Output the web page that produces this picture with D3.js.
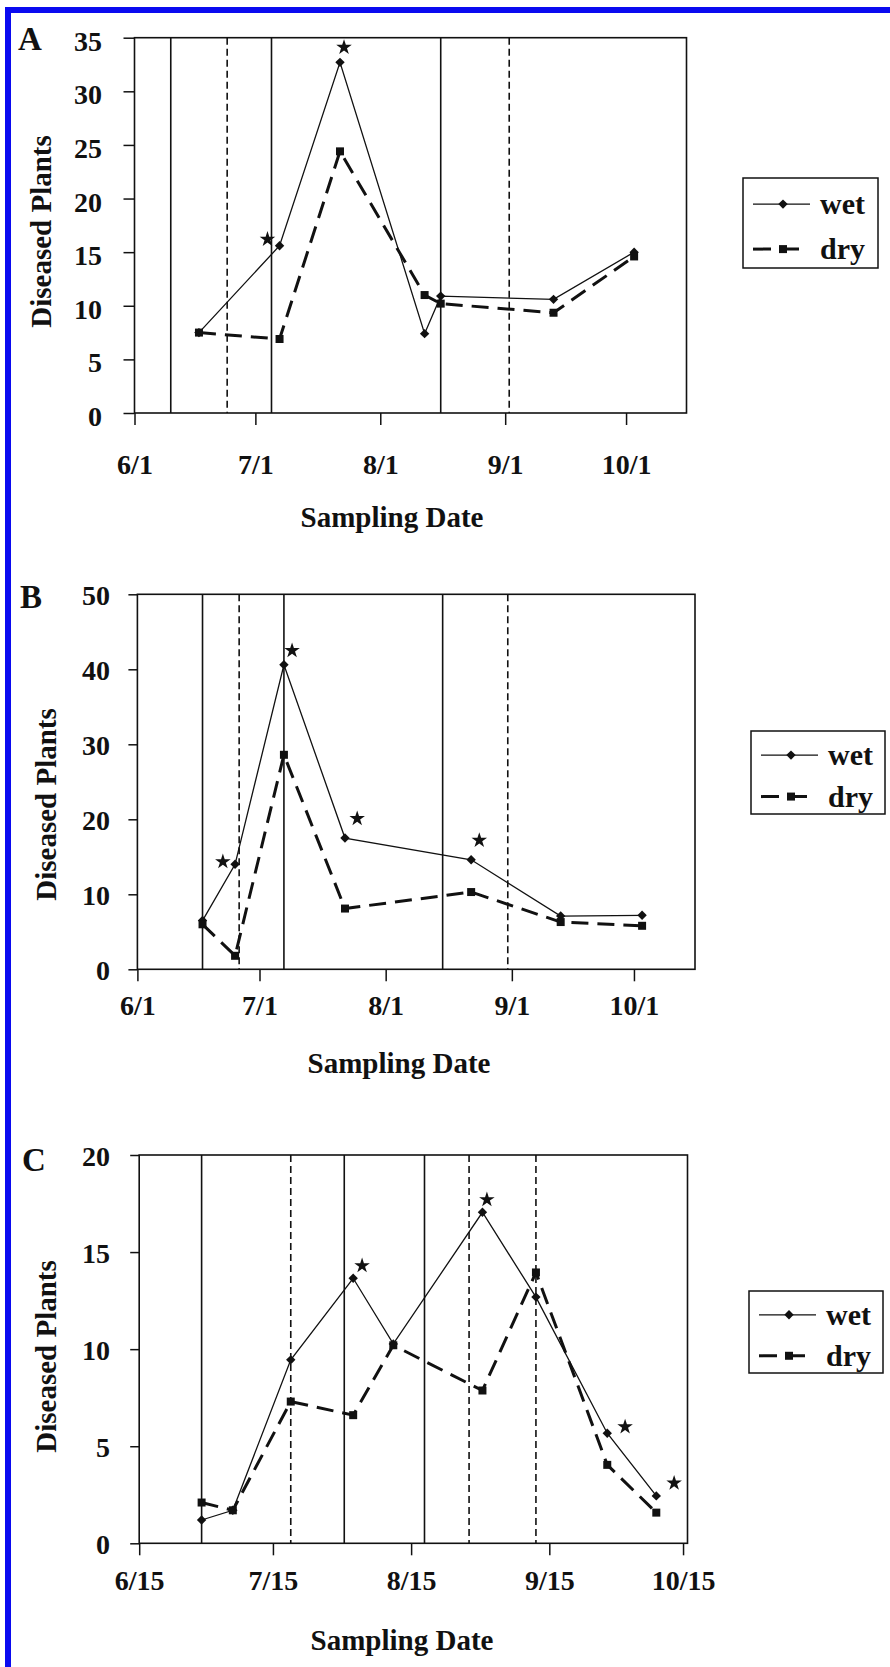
<!DOCTYPE html>
<html lang="en">
<head>
  <meta charset="UTF-8">
  <script src="https://cdn.jsdelivr.net/npm/d3@7"></script>
  <title>Diseased plants</title>
  <style>
    body { margin: 0; background: #fff; }
  </style>
</head>
<body>
  <svg id="chart" width="890" height="1667"></svg>

  <script>
    const year = 1998
    const seriesNames = ["wet", "dry"]

    // panel A
    const datesA = ["6/17", "7/7", "7/22", "8/12", "8/16", "9/13", "10/3"]
    const wetA = [7.5, 15.6, 32.7, 7.4, 10.9, 10.6, 15.0]
    const dryA = [7.5, 6.9, 24.4, 11.0, 10.2, 9.35, 14.6]
    const solidLinesA = ["6/10", "7/5", "8/16"]
    const dashedLinesA = ["6/24", "9/2"]
    const starDatesA = ["7/4", "7/23"]
    const starValuesA = [16.2, 34.1]
    const xTicksA = ["6/1", "7/1", "8/1", "9/1", "10/1"]
    const yTicksA = [0, 5, 10, 15, 20, 25, 30, 35]

    // panel B
    const datesB = ["6/17", "6/25", "7/7", "7/22", "8/22", "9/13", "10/3"]
    const wetB = [6.5, 14.0, 40.6, 17.5, 14.6, 7.1, 7.2]
    const dryB = [6.0, 1.8, 28.6, 8.1, 10.3, 6.3, 5.8]
    const solidLinesB = ["6/17", "7/7", "8/15"]
    const dashedLinesB = ["6/26", "8/31"]
    const starDatesB = ["6/22", "7/9", "7/25", "8/24"]
    const starValuesB = [14.35, 42.5, 20.1, 17.2]
    const xTicksB = ["6/1", "7/1", "8/1", "9/1", "10/1"]
    const yTicksB = [0, 10, 20, 30, 40, 50]

    // panel C
    const datesC = ["6/29", "7/6", "7/19", "8/2", "8/11", "8/31", "9/12", "9/28", "10/9"]
    const wetC = [1.2, 1.7, 9.45, 13.65, 10.27, 17.05, 12.68, 5.67, 2.44]
    const dryC = [2.1, 1.7, 7.3, 6.6, 10.2, 7.87, 13.95, 4.04, 1.58]
    const solidLinesC = ["6/29", "7/31", "8/18"]
    const dashedLinesC = ["7/19", "8/28", "9/12"]
    const starDatesC = ["8/4", "9/1", "10/2", "10/13"]
    const starValuesC = [14.3, 17.7, 6.0, 3.1]
    const xTicksC = ["6/15", "7/15", "8/15", "9/15", "10/15"]
    const yTicksC = [0, 5, 10, 15, 20]

    const serif = "'Liberation Serif', 'Times New Roman', serif"
    const ink = "#111"

    const svg = d3.select("#chart")
    const parse = s => { const [m, d] = s.split("/").map(Number); return new Date(Date.UTC(year, m - 1, d)) }
    const fmt = d3.utcFormat("%-m/%-d")

    // blue frame (only top and left edges are in the picture)
    svg.append("rect").attr("x", 5).attr("y", 7).attr("width", 885).attr("height", 6).attr("fill", "#0a0af0")
    svg.append("rect").attr("x", 5).attr("y", 7).attr("width", 6).attr("height", 1660).attr("fill", "#0a0af0")

    const panels = [
      {letter: "A", dates: datesA, wet: wetA, dry: dryA, solid: solidLinesA, dashed: dashedLinesA,
       starDates: starDatesA, starValues: starValuesA, xTicks: xTicksA, yTicks: yTicksA,
       start: "6/1", end: "10/16", ymax: 35,
       left: 134.5, right: 686.5, top: 37.7, bottom: 413, tick: 11, labelEnd: 102, yDy: "0.45em",
       letterPos: [18, 50], yTitle: [51, 231.5], xLabelY: 474, xTitle: [392, 527], legend: [743, 178, 135, 90]},
      {letter: "B", dates: datesB, wet: wetB, dry: dryB, solid: solidLinesB, dashed: dashedLinesB,
       starDates: starDatesB, starValues: starValuesB, xTicks: xTicksB, yTicks: yTicksB,
       start: "6/1", end: "10/16", ymax: 50,
       left: 137.4, right: 695, top: 594.3, bottom: 969.3, tick: 9, labelEnd: 110, yDy: "0.36em",
       letterPos: [20, 608], yTitle: [56, 804.5], xLabelY: 1015, xTitle: [399, 1073], legend: [751, 731, 134, 83]},
      {letter: "C", dates: datesC, wet: wetC, dry: dryC, solid: solidLinesC, dashed: dashedLinesC,
       starDates: starDatesC, starValues: starValuesC, xTicks: xTicksC, yTicks: yTicksC,
       start: "6/15", end: "10/16", ymax: 20,
       left: 139.2, right: 687.5, top: 1155, bottom: 1543.3, tick: 9, labelEnd: 110, yDy: "0.36em",
       letterPos: [22, 1171], yTitle: [56, 1356.5], xLabelY: 1590, xTitle: [402, 1650], legend: [749, 1291, 134, 82]}
    ]

    const styles = {
      wet: {width: 1.3, dash: null, symbol: d3.symbolSquare, size: 44, rotate: 45},
      dry: {width: 3, dash: "17,9", symbol: d3.symbolSquare, size: 64, rotate: 0}
    }

    function drawPanel(p) {
      const x = d3.scaleUtc().domain([parse(p.start), parse(p.end)]).range([p.left, p.right])
      const y = d3.scaleLinear().domain([0, p.ymax]).range([p.bottom, p.top])
      const g = svg.append("g")

      // y axis
      const ya = g.append("g")
        .attr("transform", `translate(${p.left},0)`)
        .call(d3.axisLeft(y).tickValues(p.yTicks).tickSize(p.tick).tickPadding(p.left - p.tick - p.labelEnd))
      ya.select(".domain").remove()
      ya.attr("font-family", serif).attr("font-size", 28).attr("font-weight", "bold")
      ya.selectAll("line").attr("stroke", ink).attr("stroke-width", 1.5)
      ya.selectAll("text").attr("fill", ink).attr("dy", p.yDy)

      // x axis
      const xa = g.append("g")
        .attr("transform", `translate(0,${p.bottom})`)
        .call(d3.axisBottom(x).tickValues(p.xTicks.map(parse)).tickFormat(fmt).tickSize(12))
      xa.select(".domain").remove()
      xa.attr("font-family", serif).attr("font-size", 28).attr("font-weight", "bold")
      xa.selectAll("line").attr("stroke", ink).attr("stroke-width", 1.5)
      xa.selectAll("text").attr("fill", ink).attr("dy", null).attr("y", p.xLabelY - p.bottom)

      // vertical reference lines
      g.append("g").selectAll("line")
        .data(p.solid.map(s => ({d: parse(s), dash: null})).concat(p.dashed.map(s => ({d: parse(s), dash: "7,4"}))))
        .join("line")
        .attr("x1", d => x(d.d)).attr("x2", d => x(d.d))
        .attr("y1", p.top).attr("y2", p.bottom)
        .attr("stroke", ink).attr("stroke-width", 1.6)
        .attr("stroke-dasharray", d => d.dash)

      // frame
      g.append("rect")
        .attr("x", p.left).attr("y", p.top)
        .attr("width", p.right - p.left).attr("height", p.bottom - p.top)
        .attr("fill", "none").attr("stroke", ink).attr("stroke-width", 1.6)

      // series
      seriesNames.forEach(name => {
        const st = styles[name]
        const pts = p.dates.map((s, i) => ({d: parse(s), v: p[name][i]}))
        g.append("path")
          .datum(pts)
          .attr("fill", "none")
          .attr("stroke", ink)
          .attr("stroke-width", st.width)
          .attr("stroke-dasharray", st.dash)
          .attr("d", d3.line().x(d => x(d.d)).y(d => y(d.v)))
        g.append("g").selectAll("path")
          .data(pts)
          .join("path")
          .attr("transform", d => `translate(${x(d.d)},${y(d.v)}) rotate(${st.rotate})`)
          .attr("d", d3.symbol(st.symbol, st.size))
          .attr("fill", ink)
      })

      // significance stars
      g.append("g").selectAll("path")
        .data(p.starDates.map((s, i) => ({d: parse(s), v: p.starValues[i]})))
        .join("path")
        .attr("transform", d => `translate(${x(d.d)},${y(d.v)})`)
        .attr("d", d3.symbol(d3.symbolStar, 75))
        .attr("fill", ink)

      // texts
      g.append("text")
        .attr("x", p.letterPos[0]).attr("y", p.letterPos[1])
        .attr("font-family", serif).attr("font-weight", "bold").attr("font-size", 33).attr("fill", ink)
        .text(p.letter)

      g.append("text")
        .attr("transform", `translate(${p.yTitle[0]},${p.yTitle[1]}) rotate(-90)`)
        .attr("text-anchor", "middle")
        .attr("font-family", serif).attr("font-weight", "bold").attr("font-size", 29).attr("fill", ink)
        .text("Diseased Plants")

      g.append("text")
        .attr("x", p.xTitle[0]).attr("y", p.xTitle[1])
        .attr("text-anchor", "middle")
        .attr("font-family", serif).attr("font-weight", "bold").attr("font-size", 29).attr("fill", ink)
        .text("Sampling Date")

      // legend
      const [lx, ly, lw, lh] = p.legend
      const lg = g.append("g")
      lg.append("rect")
        .attr("x", lx).attr("y", ly).attr("width", lw).attr("height", lh)
        .attr("fill", "#fff").attr("stroke", ink).attr("stroke-width", 1.5)
      seriesNames.forEach((name, i) => {
        const st = styles[name]
        const ry = ly + lh * (i === 0 ? 0.29 : 0.79)
        lg.append("line")
          .attr("x1", lx + 10).attr("x2", lx + (i === 0 ? 67 : 60))
          .attr("y1", ry).attr("y2", ry)
          .attr("stroke", ink).attr("stroke-width", st.width)
          .attr("stroke-dasharray", i === 0 ? null : "18,10")
        lg.append("path")
          .attr("transform", `translate(${lx + 40},${ry}) rotate(${st.rotate})`)
          .attr("d", d3.symbol(st.symbol, st.size))
          .attr("fill", ink)
        lg.append("text")
          .attr("x", lx + 77).attr("y", ry + 10)
          .attr("font-family", serif).attr("font-weight", "bold").attr("font-size", 30).attr("fill", ink)
          .text(name)
      })
    }

    panels.forEach(drawPanel)
  </script>
</body>
</html>
